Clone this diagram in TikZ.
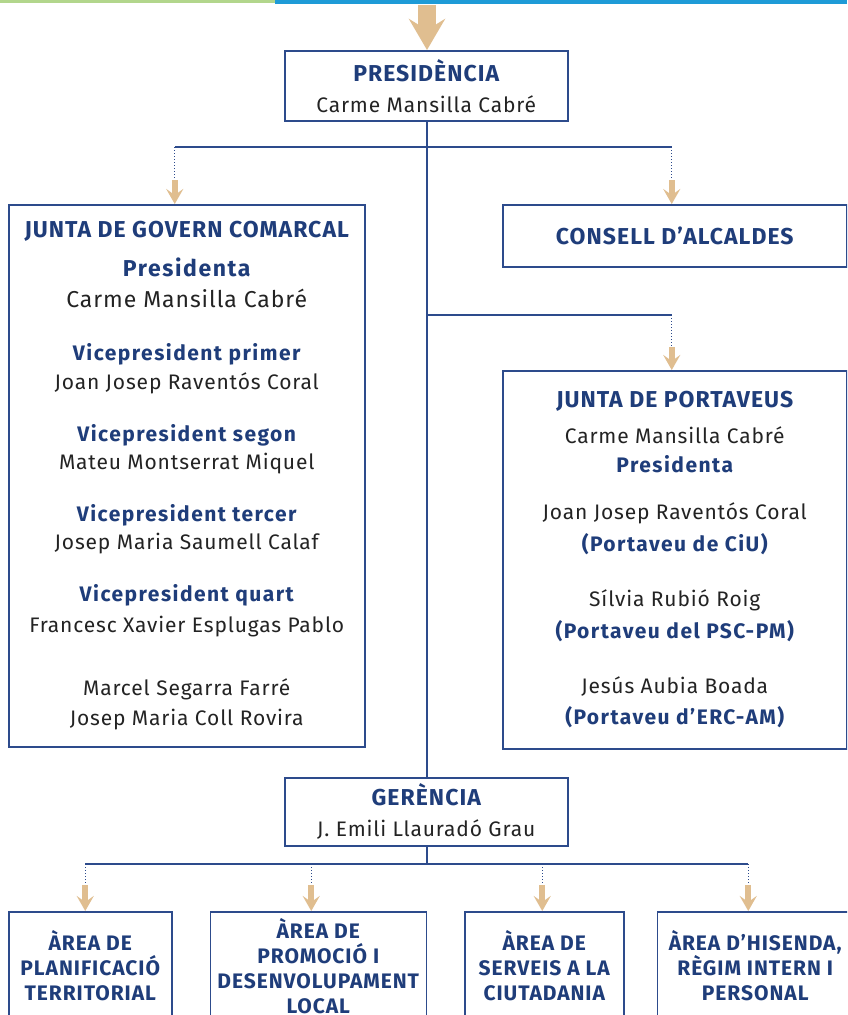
\documentclass[tikz,border=0pt]{standalone}
\usepackage{fontspec}
\setmainfont{Fira Sans}[LetterSpace=4]
\newfontfamily\titlefont{Fira Sans}[LetterSpace=4.5]
\newfontfamily\rolefont{Fira Sans}[LetterSpace=7]
\usepackage{tikz}
\usetikzlibrary{arrows.meta,positioning}
\definecolor{ccnavy}{RGB}{31,61,122}
\definecolor{ccline}{RGB}{45,75,140}
\definecolor{cctan}{RGB}{224,190,144}
\definecolor{ccgreen}{RGB}{178,214,140}
\definecolor{ccblue}{RGB}{30,155,215}
\definecolor{cctext}{RGB}{35,35,35}
\tikzstyle{unit} = [rectangle, draw=ccline, line width=1.5pt, fill=white, inner sep=0pt, align=center, text=cctext, anchor=north west, font=\fontsize{21}{29}\selectfont]
\tikzstyle{area} = [unit, anchor=north west, minimum height=108pt, font=\titlefont\bfseries\fontsize{21}{25}\selectfont, text=ccnavy]
\tikzstyle{link} = [draw=ccline, line width=1.4pt]
\tikzstyle{dots} = [draw=ccline, line width=1pt, dotted]
\tikzstyle{feed} = [draw=cctan, line width=6pt, -{Stealth[length=15pt,width=17pt,inset=6pt]}]
\newcommand{\unithead}[1]{{\titlefont\bfseries\fontsize{23}{29}\selectfont\color{ccnavy}#1}}
\newcommand{\unitrole}[1]{{\rolefont\bfseries\color{ccnavy}#1}}

\begin{document}
\begin{tikzpicture}[x=1pt,y=-1pt]
\useasboundingbox (0,0) rectangle (847,1015);
\clip (0,0) rectangle (847,1015);
\fill[white] (0,0) rectangle (847,1015);
\fill[ccgreen] (0,0) rectangle (275,3);
\fill[ccblue] (275,0) rectangle (847,4);

% boxes
\node[unit, minimum width=283pt, minimum height=70pt] (pres) at (284,50)
  {\unithead{PRESIDÈNCIA}\\[2pt] Carme Mansilla Cabré};
\node[unit, minimum width=356pt, minimum height=542pt] (jgc) at (8,204)
  {\unithead{JUNTA DE GOVERN COMARCAL}\\[10pt]
   {\fontsize{23}{29}\selectfont\unitrole{Presidenta}}\\[2pt]
   {\fontsize{23}{29}\selectfont Carme Mansilla Cabré}\\[24pt]
   \unitrole{Vicepresident primer}\\
   Joan Josep Raventós Coral\\[23pt]
   \unitrole{Vicepresident segon}\\[-1pt]
   Mateu Montserrat Miquel\\[23pt]
   \unitrole{Vicepresident tercer}\\[-1pt]
   Josep Maria Saumell Calaf\\[23pt]
   \unitrole{Vicepresident quart}\\[2pt]
   Francesc Xavier Esplugas Pablo\\[34pt]
   Marcel Segarra Farré\\[1pt]
   Josep Maria Coll Rovira};
\node[unit, minimum width=344pt, minimum height=62pt] (ca) at (502,204)
  {\unithead{CONSELL D’ALCALDES}};
\node[unit, minimum width=344pt, minimum height=378pt] (jp) at (502,370)
  {\unithead{JUNTA DE PORTAVEUS}\\[7pt]
   Carme Mansilla Cabré\\
   \unitrole{Presidenta}\\[18pt]
   Joan Josep Raventós Coral\\[3pt]
   \unitrole{(Portaveu de CiU)}\\[26pt]
   Sílvia Rubió Roig\\[3pt]
   \unitrole{(Portaveu del PSC-PM)}\\[26pt]
   Jesús Aubia Boada\\[2pt]
   \unitrole{(Portaveu d’ERC-AM)}};
\node[unit, minimum width=283pt, minimum height=68pt] (ger) at (284,777)
  {\unithead{GERÈNCIA}\\[2pt] J. Emili Llauradó Grau};

\node[area, minimum width=163pt] (a1) at (8,911) {ÀREA DE\\PLANIFICACIÓ\\TERRITORIAL};
\node[area, minimum width=216pt, right=37pt of a1.north east, anchor=north west] (a2) {ÀREA DE\\PROMOCIÓ I\\DESENVOLUPAMENT\\LOCAL};
\node[area, minimum width=159pt, right=37pt of a2.north east, anchor=north west] (a3) {ÀREA DE\\SERVEIS A LA\\CIUTADANIA};
\node[area, minimum width=196pt, right=32pt of a3.north east, anchor=north west] (a4) {ÀREA D’HISENDA,\\RÈGIM INTERN I\\PERSONAL};

% connectors
\coordinate (top) at (427,5);
\draw[feed, line width=18pt, -{Stealth[length=31pt,width=36pt,inset=11pt]}] (top) -- (pres.north -| top);
\draw[link] (pres.south -| top) -- (ger.north -| top);

\coordinate (b1) at (427,147);
\coordinate (jgcin) at ([xshift=-12pt]jgc.north);
\coordinate (cain) at ([xshift=-3pt]ca.north);
\draw[link] (jgcin |- b1) -- (cain |- b1);
\draw[dots] (jgcin |- b1) -- ++(0,33) coordinate (jgcdot);
\draw[feed] (jgcdot) -- (jgcin);
\draw[dots] (cain |- b1) -- ++(0,33) coordinate (cadot);
\draw[feed] (cadot) -- (cain);

\coordinate (b2) at (427,315);
\coordinate (jpin) at ([xshift=-3pt]jp.north);
\draw[link] (b2) -- (jpin |- b2);
\draw[dots] (jpin |- b2) -- ++(0,32) coordinate (jpdot);
\draw[feed] (jpdot) -- (jpin);

\coordinate (b3) at (427,864);
\draw[link] (ger.south -| top) -- (b3);
\coordinate (a1in) at ([xshift=-5pt]a1.north);
\coordinate (a2in) at ([xshift=-7pt]a2.north);
\coordinate (a3in) at ([xshift=-2pt]a3.north);
\coordinate (a4in) at ([xshift=-7pt]a4.north);
\draw[link] (a1in |- b3) -- (a4in |- b3);
\foreach \a in {a1in,a2in,a3in,a4in}{
  \draw[dots] (\a |- b3) -- ++(0,21) coordinate (\a dot);
  \draw[feed] (\a dot) -- (\a);
}
\end{tikzpicture}
\end{document}
